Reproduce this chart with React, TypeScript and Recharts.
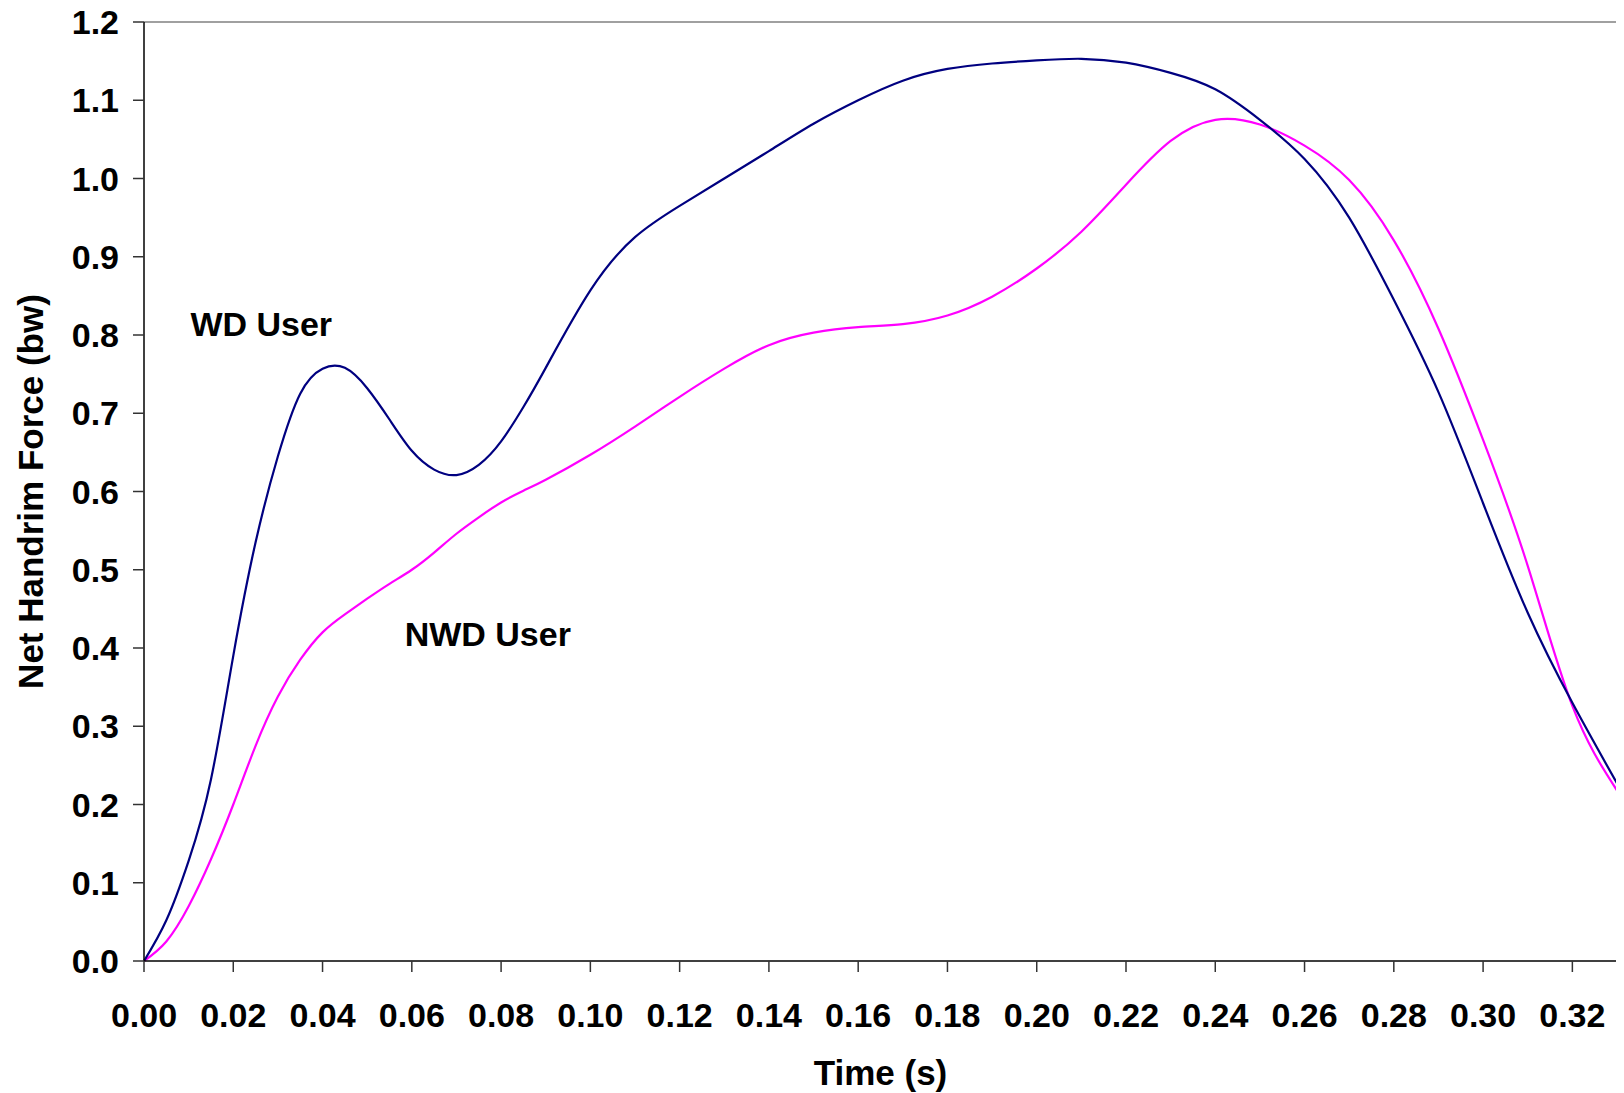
import React from "react";
import {
  LineChart,
  Line,
  XAxis,
  YAxis,
  ReferenceLine,
  ReferenceDot,
} from "recharts";

// time (s) and net handrim force (bw)
const times = [
  0, 0.005, 0.01, 0.015, 0.02, 0.025, 0.03, 0.035, 0.04, 0.045, 0.05, 0.055,
  0.06, 0.065, 0.07, 0.075, 0.08, 0.085, 0.09, 0.1, 0.11, 0.12, 0.13, 0.14,
  0.15, 0.16, 0.17, 0.18, 0.19, 0.2, 0.21, 0.22, 0.23, 0.24, 0.25, 0.26, 0.27,
  0.28, 0.29, 0.3, 0.31, 0.32, 0.33,
];
const wdUser = [
  0, 0.052, 0.128, 0.232, 0.39, 0.535, 0.645, 0.725, 0.757, 0.758, 0.732,
  0.692, 0.652, 0.628, 0.621, 0.634, 0.664, 0.708, 0.758, 0.857, 0.925, 0.965,
  1.0, 1.035, 1.07, 1.1, 1.125, 1.14, 1.147, 1.151, 1.153, 1.148, 1.135, 1.114,
  1.075, 1.025, 0.95, 0.845, 0.727, 0.585, 0.445, 0.33, 0.227,
];
const nwdUser = [
  0, 0.025, 0.07, 0.13, 0.2, 0.275, 0.338, 0.385, 0.42, 0.443, 0.463, 0.482,
  0.5, 0.522, 0.546, 0.567, 0.586, 0.601, 0.615, 0.647, 0.683, 0.721, 0.757,
  0.787, 0.803, 0.81, 0.814, 0.825, 0.849, 0.885, 0.932, 0.992, 1.048, 1.075,
  1.069, 1.042, 0.998, 0.921, 0.808, 0.666, 0.505, 0.326, 0.218,
];
const xTicks = [
  0, 0.02, 0.04, 0.06, 0.08, 0.1, 0.12, 0.14, 0.16, 0.18, 0.2, 0.22, 0.24,
  0.26, 0.28, 0.3, 0.32,
];
const yTicks = [0, 0.1, 0.2, 0.3, 0.4, 0.5, 0.6, 0.7, 0.8, 0.9, 1.0, 1.1, 1.2];

const data = times.map((t, i) => ({ t, wd: wdUser[i], nwd: nwdUser[i] }));

const FONT = "'Liberation Sans', Arial, Helvetica, sans-serif";
const NAVY = "#000080";
const MAGENTA = "#FF00FF";
const BORDER = "#808080";

const tickStyle = { fontSize: 34, fontWeight: "bold", fill: "#000", fontFamily: FONT };

const note = (text: string) => (props: any) =>
  (
    <text
      x={props.cx}
      y={props.cy}
      fontSize={34}
      fontWeight="bold"
      fontFamily={FONT}
      fill="#000"
    >
      {text}
    </text>
  );

export default function App() {
  return (
    <div style={{ width: 1624, height: 1093, margin: "-8px 0 0 -8px" }}>
      <LineChart
        width={1624}
        height={1093}
        data={data}
        margin={{ top: 22, right: 7, left: 0, bottom: 0 }}
      >
        <XAxis
          dataKey="t"
          type="number"
          domain={[0, 0.33]}
          ticks={xTicks}
          tickFormatter={(v: number) => v.toFixed(2)}
          tick={tickStyle}
          tickSize={11}
          tickMargin={31}
          height={132}
          axisLine={{ stroke: "#000", strokeWidth: 1.5 }}
          tickLine={{ stroke: "#333", strokeWidth: 1.5 }}
          interval={0}
          label={{
            content: (p: any) => (
              <text
                x={p.viewBox.x + p.viewBox.width / 2}
                y={p.viewBox.y + 124}
                textAnchor="middle"
                fontSize={35}
                fontWeight="bold"
                fontFamily={FONT}
                fill="#000"
              >
                Time (s)
              </text>
            ),
          }}
        />
        <YAxis
          type="number"
          domain={[0, 1.2]}
          ticks={yTicks}
          tickFormatter={(v: number) => v.toFixed(1)}
          tick={tickStyle}
          tickSize={11}
          tickMargin={14}
          width={144}
          axisLine={{ stroke: "#000", strokeWidth: 1.5 }}
          tickLine={{ stroke: "#333", strokeWidth: 1.5 }}
          interval={0}
          label={{
            content: (p: any) => {
              const cx = p.viewBox.x + 43;
              const cy = p.viewBox.y + p.viewBox.height / 2;
              return (
                <text
                  x={cx}
                  y={cy}
                  transform={`rotate(-90 ${cx} ${cy})`}
                  textAnchor="middle"
                  fontSize={35}
                  fontWeight="bold"
                  fontFamily={FONT}
                  fill="#000"
                >
                  Net Handrim Force (bw)
                </text>
              );
            },
          }}
        />
        <ReferenceLine y={1.2} stroke={BORDER} strokeWidth={1.5} />
        <ReferenceLine x={0.33} stroke={BORDER} strokeWidth={2} />
        <Line
          type="natural"
          dataKey="nwd"
          stroke={MAGENTA}
          strokeWidth={2.2}
          dot={false}
          isAnimationActive={false}
        />
        <Line
          type="natural"
          dataKey="wd"
          stroke={NAVY}
          strokeWidth={2.2}
          dot={false}
          isAnimationActive={false}
        />
        <ReferenceDot x={0.0104} y={0.799} r={0} shape={note("WD User")} />
        <ReferenceDot x={0.0584} y={0.403} r={0} shape={note("NWD User")} />
      </LineChart>
    </div>
  );
}
